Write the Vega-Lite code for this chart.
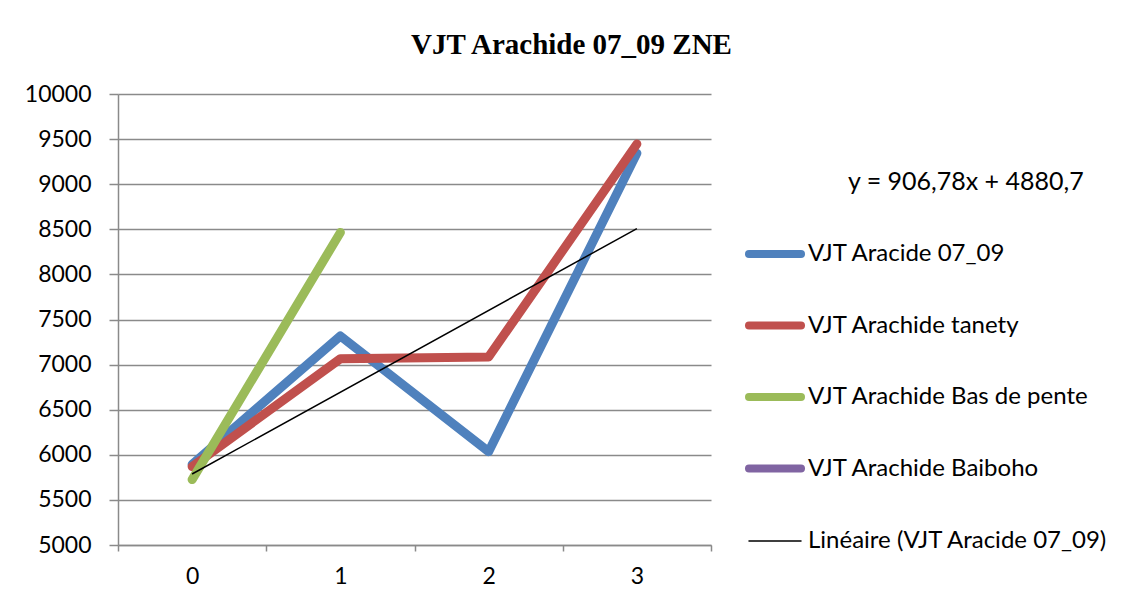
{
  "$schema": "https://vega.github.io/schema/vega-lite/v6.json",
  "width": 593,
  "height": 451,
  "autosize": {"type": "none"},
  "padding": {"left": 118, "top": 94, "right": 421, "bottom": 60},
  "background": "white",
  "config": {"view": {"stroke": null}, "font": "Lato"},
  "title": {
    "text": "VJT Arachide 07_09 ZNE",
    "font": "Liberation Serif",
    "fontSize": 29,
    "fontWeight": "bold",
    "color": "black",
    "anchor": "middle",
    "frame": "group",
    "dx": 157,
    "offset": 23
  },
  "datasets": {
    "series": [
      {"series": "VJT Aracide 07_09", "x": 0, "y": 5894},
      {"series": "VJT Aracide 07_09", "x": 1, "y": 7317},
      {"series": "VJT Aracide 07_09", "x": 2, "y": 6035},
      {"series": "VJT Aracide 07_09", "x": 3, "y": 9344},
      {"series": "VJT Arachide tanety", "x": 0, "y": 5870},
      {"series": "VJT Arachide tanety", "x": 1, "y": 7065},
      {"series": "VJT Arachide tanety", "x": 2, "y": 7085},
      {"series": "VJT Arachide tanety", "x": 3, "y": 9446},
      {"series": "VJT Arachide Bas de pente", "x": 0, "y": 5725},
      {"series": "VJT Arachide Bas de pente", "x": 1, "y": 8465}
    ]
  },
  "layer": [
    {
      "data": {"name": "series"},
      "mark": {"type": "line", "strokeWidth": 9, "strokeCap": "round", "strokeJoin": "round"},
      "encoding": {
        "x": {
          "field": "x",
          "type": "ordinal",
          "scale": {"type": "band", "domain": [0, 1, 2, 3], "paddingInner": 0, "paddingOuter": 0},
          "axis": {
            "title": null,
            "labelAngle": 0,
            "labelFont": "Lato",
            "labelFontSize": 23,
            "labelColor": "black",
            "labelPadding": 14,
            "tickBand": "extent",
            "tickSize": 6,
            "tickColor": "#8a8a8a",
            "tickWidth": 1.5,
            "domainColor": "#8a8a8a",
            "domainWidth": 1.5,
            "grid": false
          }
        },
        "y": {
          "field": "y",
          "type": "quantitative",
          "scale": {"domain": [5000, 10000], "zero": false, "nice": false},
          "axis": {
            "title": null,
            "format": "d",
            "values": [5000, 5500, 6000, 6500, 7000, 7500, 8000, 8500, 9000, 9500, 10000],
            "labelFont": "Lato",
            "labelFontSize": 23,
            "labelColor": "black",
            "labelPadding": 18,
            "tickSize": 9,
            "tickColor": "#8a8a8a",
            "tickWidth": 1.5,
            "domainColor": "#8a8a8a",
            "domainWidth": 1.5,
            "grid": true,
            "gridColor": "#8a8a8a",
            "gridWidth": 1.5
          }
        },
        "color": {
          "field": "series",
          "type": "nominal",
          "scale": {
            "domain": ["VJT Aracide 07_09", "VJT Arachide tanety", "VJT Arachide Bas de pente", "VJT Arachide Baiboho", "Linéaire (VJT Aracide 07_09)"],
            "range": ["#4F81BD", "#C0504D", "#9BBB59", "#8064A2", "#000000"]
          },
          "legend": {
            "title": "y = 906,78x + 4880,7",
            "titleFont": "Lato",
            "titleFontSize": 25,
            "titleFontWeight": "normal",
            "titleColor": "black",
            "titleLimit": 600,
            "titlePadding": 47,
            "orient": "none",
            "legendX": 631,
            "legendY": 76,
            "padding": 0,
            "symbolType": "stroke",
            "symbolSize": 2704,
            "symbolStrokeWidth": 8,
            "symbolOffset": 14,
            "labelFont": "Lato",
            "labelFontSize": 24,
            "labelColor": "black",
            "labelOffset": 21,
            "labelLimit": 500,
            "rowPadding": 39.5,
            "encode": {
              "symbols": {
                "update": {
                  "strokeWidth": {"signal": "datum.value === 'Linéaire (VJT Aracide 07_09)' ? 1.5 : 8"},
                  "strokeCap": {"value": "round"},
                  "y": {"signal": "datum.size * 0.5 + (datum.value === 'Linéaire (VJT Aracide 07_09)' ? 5 : 0)"}
                }
              },
              "labels": {
                "update": {
                  "dy": {"signal": "datum.value === 'Linéaire (VJT Aracide 07_09)' ? 5 : 0"}
                }
              },
              "title": {"update": {"dx": {"value": 99}}}
            }
          }
        }
      }
    },
    {
      "data": {"name": "series"},
      "transform": [
        {"filter": "datum.series === 'VJT Aracide 07_09'"},
        {"regression": "y", "on": "x"}
      ],
      "mark": {"type": "line", "strokeWidth": 1.5},
      "encoding": {
        "x": {"field": "x", "type": "ordinal"},
        "y": {"field": "y", "type": "quantitative"},
        "color": {"datum": "Linéaire (VJT Aracide 07_09)"}
      }
    }
  ]
}
